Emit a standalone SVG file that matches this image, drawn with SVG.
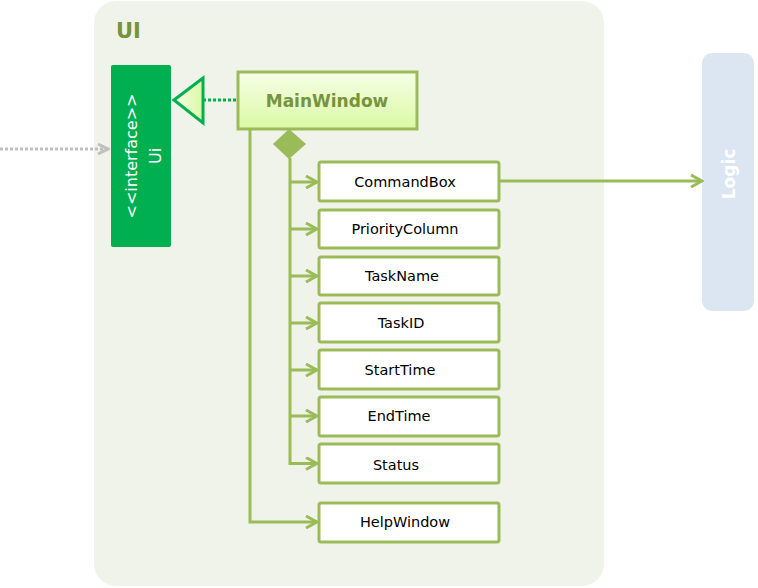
<svg xmlns="http://www.w3.org/2000/svg" width="758" height="588" viewBox="0 0 758 588">
<defs>
<style>
.box{fill:#fff;stroke:#9BBB59;stroke-width:3}
.lbl{font-family:"DejaVu Sans",Verdana,sans-serif;font-size:14.5px;fill:#000;text-anchor:middle;dominant-baseline:central}
.con{stroke:#9BBB59;stroke-width:3;fill:none}
</style>
<linearGradient id="mw" x1="0" y1="0" x2="0" y2="1">
<stop offset="0" stop-color="#F6FFE6"/>
<stop offset="1" stop-color="#DAF9A4"/>
</linearGradient>
<linearGradient id="tri" x1="0" y1="0" x2="1" y2="0">
<stop offset="0" stop-color="#F6FFE6"/>
<stop offset="1" stop-color="#DAF9A4"/>
</linearGradient>
<marker id="open" markerWidth="14" markerHeight="14" refX="12" refY="7" orient="auto" markerUnits="userSpaceOnUse">
<path d="M1,1 L12,7 L1,13" fill="none" stroke="#9BBB59" stroke-width="3"/>
</marker>
<marker id="grey" markerWidth="14" markerHeight="14" refX="12" refY="7" orient="auto" markerUnits="userSpaceOnUse">
<path d="M2,2 L12,7 L2,12" fill="none" stroke="#BFBFBF" stroke-width="3"/>
</marker>
</defs>
<g id="UI-package">
<rect x="94" y="1" width="510" height="585" rx="22" fill="#F0F3E9"/>
<text x="116" y="38" font-family="'DejaVu Sans',Verdana,sans-serif" font-size="21" font-weight="bold" fill="#77933C">UI</text>
</g>
<g id="Logic">
<rect x="702" y="53" width="52" height="258" rx="10" fill="#DCE6F2"/>
<text transform="translate(729,174) rotate(-90)" text-anchor="middle" dominant-baseline="central" font-family="'DejaVu Sans',Verdana,sans-serif" font-size="17" font-weight="bold" fill="#fff">Logic</text>
</g>
<g id="connectors">
<line x1="0" y1="149" x2="108" y2="149" stroke="#BFBFBF" stroke-width="3" stroke-dasharray="3,2" marker-end="url(#grey)"/>
<line x1="203" y1="100" x2="237" y2="100" stroke="#00B050" stroke-width="3" stroke-dasharray="3,2"/>
<polygon points="174,100 203,78 203,123" fill="url(#tri)" stroke="#00B050" stroke-width="3"/>
<polygon points="273,144 289,129 306,144 289,159" fill="#9BBB59"/>
<line class="con" x1="290" y1="158" x2="290" y2="465"/>
<line class="con" x1="290" y1="182" x2="317" y2="182" marker-end="url(#open)"/>
<line class="con" x1="290" y1="229" x2="317" y2="229" marker-end="url(#open)"/>
<line class="con" x1="290" y1="276" x2="317" y2="276" marker-end="url(#open)"/>
<line class="con" x1="290" y1="323" x2="317" y2="323" marker-end="url(#open)"/>
<line class="con" x1="290" y1="370" x2="317" y2="370" marker-end="url(#open)"/>
<line class="con" x1="290" y1="416" x2="317" y2="416" marker-end="url(#open)"/>
<line class="con" x1="290" y1="463.5" x2="317" y2="463.5" marker-end="url(#open)"/>
<polyline class="con" points="250,129 250,522 317,522" marker-end="url(#open)"/>
<line class="con" x1="499" y1="181" x2="702" y2="181" marker-end="url(#open)"/>
</g>
<g id="Ui">
<rect x="111" y="65" width="60" height="182" rx="2" fill="#00B050"/>
<text transform="translate(131,156) rotate(-90)" text-anchor="middle" dominant-baseline="central" font-family="'DejaVu Sans',Verdana,sans-serif" font-size="16" fill="#fff">&lt;&lt;interface&gt;&gt;</text>
<text transform="translate(155,156) rotate(-90)" text-anchor="middle" dominant-baseline="central" font-family="'DejaVu Sans',Verdana,sans-serif" font-size="16" fill="#fff">Ui</text>
</g>
<g id="MainWindow">
<rect x="238" y="72" width="179" height="57" fill="url(#mw)" stroke="#9BBB59" stroke-width="3"/>
<text x="327" y="101" text-anchor="middle" dominant-baseline="central" font-family="'DejaVu Sans',Verdana,sans-serif" font-size="17" font-weight="bold" fill="#77933C">MainWindow</text>
</g>
<g id="CommandBox"><rect class="box" x="319" y="162" width="180" height="39" rx="2"/><text class="lbl" x="405" y="182">CommandBox</text></g>
<g id="PriorityColumn"><rect class="box" x="319" y="210" width="180" height="38" rx="2"/><text class="lbl" x="405" y="229">PriorityColumn</text></g>
<g id="TaskName"><rect class="box" x="319" y="257" width="180" height="38" rx="2"/><text class="lbl" x="402" y="276">TaskName</text></g>
<g id="TaskID"><rect class="box" x="319" y="303" width="180" height="39" rx="2"/><text class="lbl" x="401" y="323">TaskID</text></g>
<g id="StartTime"><rect class="box" x="319" y="350" width="180" height="39" rx="2"/><text class="lbl" x="400" y="370">StartTime</text></g>
<g id="EndTime"><rect class="box" x="319" y="397" width="180" height="39" rx="2"/><text class="lbl" x="399" y="416">EndTime</text></g>
<g id="Status"><rect class="box" x="319" y="444" width="180" height="39" rx="2"/><text class="lbl" x="396" y="465">Status</text></g>
<g id="HelpWindow"><rect class="box" x="319" y="503" width="180" height="39" rx="2"/><text class="lbl" x="405" y="522">HelpWindow</text></g>
</svg>
